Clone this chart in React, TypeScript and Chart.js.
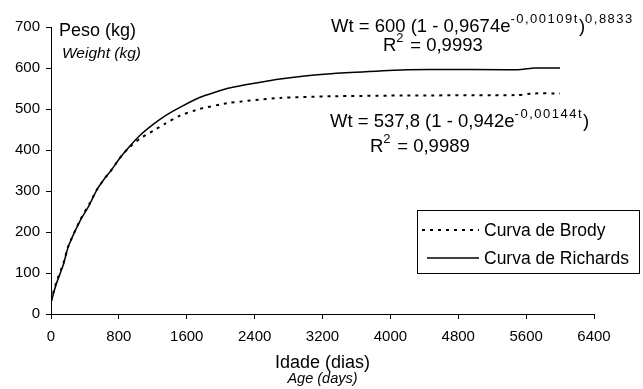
import { useEffect, useRef } from 'react';
import { Chart, registerables } from 'chart.js';
Chart.register(...registerables);

// ---- data ----
const ages = [0, 60, 145, 205, 340, 450, 540, 630, 715, 810, 910, 1050, 1200, 1350, 1520, 1750, 2100, 2700, 3300, 4200, 5500, 5700, 6000];
const richards = [28, 72, 120, 165, 226, 265, 303, 330, 352, 380, 405, 436, 462, 484, 504, 528, 551, 573, 586, 596, 596, 600, 600];
const brody = [31, 76, 123, 166, 228, 268, 303, 330, 352, 380, 404, 428, 446, 465, 484, 500, 515, 527, 531, 533, 534, 538, 538];
const seriesLabels = ['Curva de Brody', 'Curva de Richards'];
const yAxisTitle = 'Peso (kg)';
const yAxisSub = 'Weight (kg)';
const xAxisTitle = 'Idade (dias)';
const xAxisSub = 'Age (days)';
const richardsEq = [
  { t: 'Wt = 600 (1 - 0,9674e' },
  { t: '-0,00109t', sup: true },
  { t: ')' },
  { t: '0,8833', sup: true },
];
const richardsR2 = [{ t: 'R' }, { t: '2', sup: true }, { t: ' = 0,9993' }];
const brodyEq = [
  { t: 'Wt = 537,8 (1 - 0,942e' },
  { t: '-0,00144t', sup: true },
  { t: ')' },
];
const brodyR2 = [{ t: 'R' }, { t: '2', sup: true }, { t: ' = 0,9989' }];

const FONT = '"Liberation Sans", Arial, sans-serif';

type Part = { t: string; sup?: boolean };

function drawRich(ctx: CanvasRenderingContext2D, x: number, y: number, parts: Part[], size: number, supSize: number, supGap: number) {
  let cx = x;
  ctx.textAlign = 'left';
  ctx.textBaseline = 'alphabetic';
  for (const p of parts) {
    if (!p.sup) {
      ctx.font = `${size}px ${FONT}`;
      ctx.fillText(p.t, cx, y);
      cx += ctx.measureText(p.t).width;
    } else {
      ctx.font = `${supSize}px ${FONT}`;
      for (const ch of p.t) {
        ctx.fillText(ch, cx, y - size * 0.5);
        cx += ctx.measureText(ch).width + supGap;
      }
    }
  }
}

const textPlugin = {
  id: 'textPlugin',
  afterDraw(chart: any) {
    const ctx: CanvasRenderingContext2D = chart.ctx;
    const area = chart.chartArea;
    ctx.save();
    ctx.fillStyle = '#000';
    // y axis title
    ctx.textAlign = 'left';
    ctx.textBaseline = 'alphabetic';
    ctx.font = `18px ${FONT}`;
    ctx.fillText(yAxisTitle, 59, 36);
    ctx.font = `italic 15.5px ${FONT}`;
    ctx.fillText(yAxisSub, 62, 58);
    // equations
    drawRich(ctx, 331, 32, richardsEq, 18.5, 13, 1.5);
    drawRich(ctx, 383, 51, richardsR2, 18.5, 13, 1.5);
    drawRich(ctx, 330, 127, brodyEq, 18.5, 13, 1.5);
    drawRich(ctx, 370, 152, brodyR2, 18.5, 13, 1.5);
    // x axis title
    const cx = (area.left + area.right) / 2;
    ctx.textAlign = 'center';
    ctx.font = `18px ${FONT}`;
    ctx.fillText(xAxisTitle, cx, 368);
    ctx.font = `italic 14.5px ${FONT}`;
    ctx.fillText(xAxisSub, cx, 383);
    // legend
    const lx = 417.5, ly = 210.5, lw = 222, lh = 63;
    ctx.strokeStyle = '#000';
    ctx.lineWidth = 1;
    ctx.strokeRect(lx, ly, lw, lh);
    const ds = chart.data.datasets;
    const rows = [230, 258];
    const starts = [422, 427];
    ds.forEach((d: any, i: number) => {
      ctx.save();
      ctx.strokeStyle = d.borderColor;
      ctx.lineWidth = d.borderWidth;
      ctx.setLineDash(d.borderDash || []);
      ctx.beginPath();
      ctx.moveTo(starts[i], rows[i]);
      ctx.lineTo(479, rows[i]);
      ctx.stroke();
      ctx.restore();
      ctx.textAlign = 'left';
      ctx.textBaseline = 'middle';
      ctx.font = `17.5px ${FONT}`;
      ctx.fillText(d.label, 484, rows[i] + 1);
    });
    ctx.restore();
  },
};

export default function App() {
  const ref = useRef<HTMLCanvasElement>(null);
  useEffect(() => {
    const canvas = ref.current!;
    const chart = new Chart(canvas, {
      type: 'line',
      data: {
        datasets: [
          {
            label: seriesLabels[0],
            data: ages.map((a, i) => ({ x: a, y: brody[i] })),
            borderColor: '#000',
            borderWidth: 2,
            borderDash: [3, 5],
            pointRadius: 0,
            tension: 0.15,
            fill: false,
          },
          {
            label: seriesLabels[1],
            data: ages.map((a, i) => ({ x: a, y: richards[i] })),
            borderColor: '#000',
            borderWidth: 1.5,
            pointRadius: 0,
            tension: 0.15,
            fill: false,
          },
        ],
      },
      options: {
        responsive: false,
        animation: false,
        devicePixelRatio: 1,
        layout: { padding: { left: 0, right: 49, top: 27, bottom: 0 } },
        plugins: { legend: { display: false }, tooltip: { enabled: false } },
        scales: {
          x: {
            type: 'linear',
            min: 0,
            max: 6400,
            afterFit: (s: any) => { s.height = 75; },
            ticks: { stepSize: 800, color: '#000', font: { family: FONT, size: 15 }, padding: 9, maxRotation: 0, callback: (v: any) => String(v) },
            grid: { display: true, drawOnChartArea: false, drawTicks: true, tickLength: 5, color: '#000' },
            border: { display: true, color: '#000', width: 1 },
          },
          y: {
            min: 0,
            max: 700,
            afterFit: (s: any) => { s.width = 51; },
            ticks: { stepSize: 100, color: '#000', font: { family: FONT, size: 15 }, padding: 6, callback: (v: any) => String(v) },
            grid: { display: true, drawOnChartArea: false, drawTicks: true, tickLength: 5, color: '#000' },
            border: { display: true, color: '#000', width: 1 },
          },
        },
      },
      plugins: [textPlugin],
    });
    return () => chart.destroy();
  }, []);
  return (
    <div style={{ position: 'fixed', left: 0, top: 0, width: 643, height: 389, background: '#fff' }}>
      <canvas ref={ref} width={643} height={389} />
    </div>
  );
}
